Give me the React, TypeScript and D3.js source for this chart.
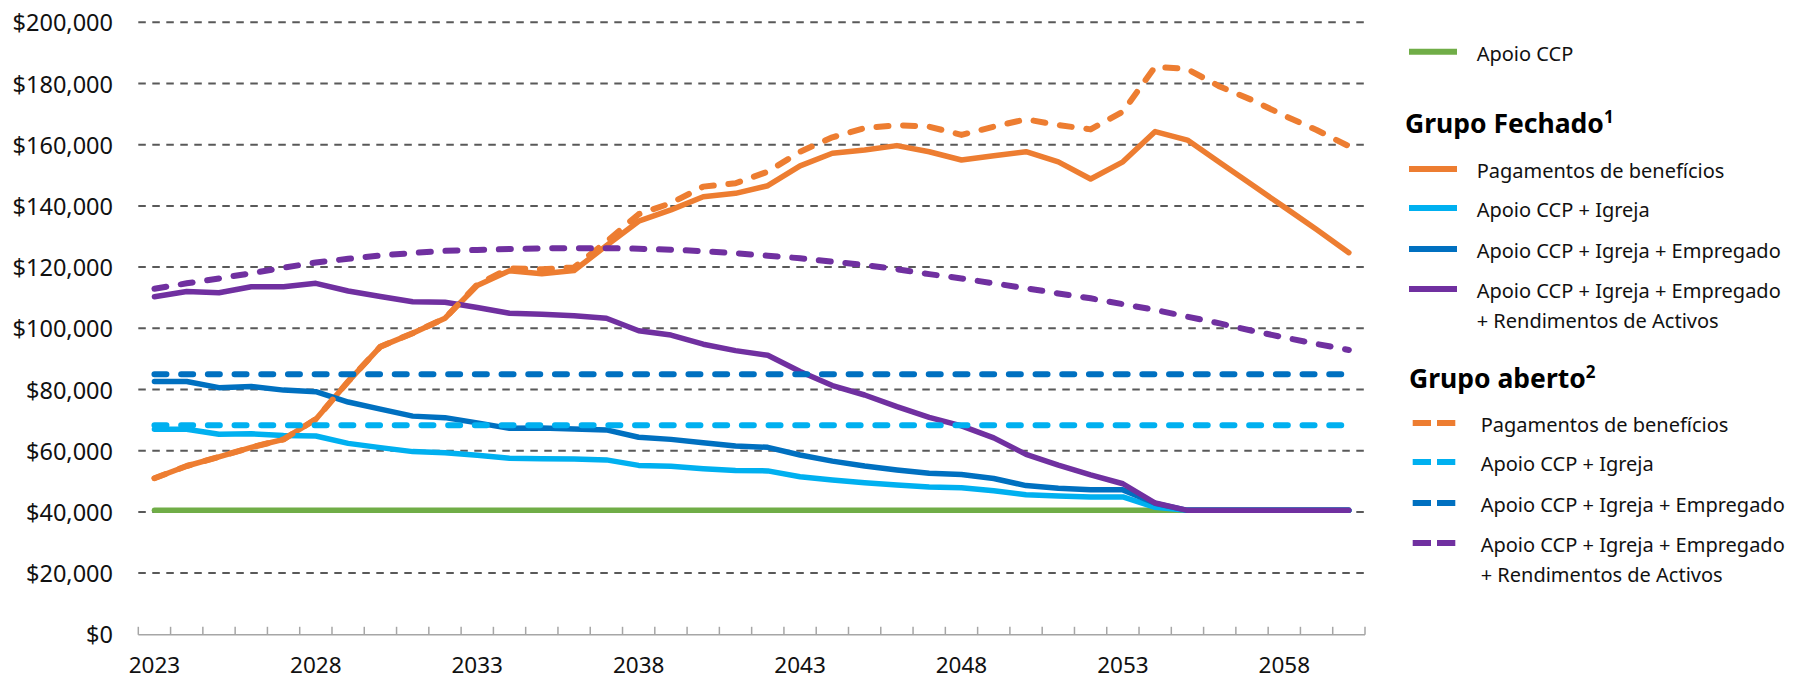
import React from 'react';
import * as d3 from 'd3';

const years = d3.range(2023, 2061);
const labelYears = [2023, 2028, 2033, 2038, 2043, 2048, 2053, 2058];
const yTicks = [0, 20000, 40000, 60000, 80000, 100000, 120000, 140000, 160000, 180000, 200000];

// Apoio CCP
const apoioCCP = [
  40500, 40500, 40500, 40500, 40500, 40500, 40500, 40500, 40500, 40500,
  40500, 40500, 40500, 40500, 40500, 40500, 40500, 40500, 40500, 40500,
  40500, 40500, 40500, 40500, 40500, 40500, 40500, 40500, 40500, 40500,
  40500, 40500, 40500, 40500, 40500, 40500, 40500, 40500,
];

// Grupo Fechado
const fechadoPagamentos = [
  51000, 55000, 58000, 61100, 63700, 70300, 82600, 94000, 98400, 103300,
  114000, 118800, 117800, 118900, 127000, 135000, 138700, 143000, 144100, 146600,
  153100, 157200, 158300, 159700, 157700, 155000, 156400, 157700, 154400, 148800,
  154400, 164300, 161500, 154200, 146900, 139600, 132300, 124700,
];
const fechadoIgreja = [
  67000, 67000, 65400, 65500, 65000, 64800, 62400, 61000, 59700, 59300,
  58500, 57500, 57400, 57300, 57000, 55200, 54900, 54100, 53500, 53400,
  51500, 50400, 49500, 48800, 48100, 47900, 46900, 45600, 45200, 44900,
  44900, 41500, 40500, 40500, 40500, 40500, 40500, 40500,
];
const fechadoEmpregado = [
  82600, 82600, 80600, 81000, 79800, 79300, 75900, 73600, 71300, 70800,
  69100, 67300, 67400, 67100, 66800, 64400, 63700, 62600, 61500, 61100,
  58600, 56600, 55000, 53700, 52600, 52200, 50900, 48600, 47700, 47200,
  47200, 42800, 40500, 40500, 40500, 40500, 40500, 40500,
];
const fechadoRendimentos = [
  110300, 112000, 111600, 113600, 113600, 114700, 112200, 110400, 108700, 108500,
  106800, 104900, 104600, 104100, 103300, 99200, 97800, 94800, 92700, 91200,
  85900, 81300, 78200, 74400, 70900, 68100, 64200, 58800, 55300, 52100,
  49200, 42900, 40500, 40500, 40500, 40500, 40500, 40500,
];

// Grupo aberto
const abertoPagamentos = [
  51000, 55000, 58000, 61100, 63700, 70300, 82600, 94000, 98400, 103300,
  114300, 119600, 119300, 119900, 128300, 137300, 140900, 146300, 147400, 151200,
  157700, 162400, 165400, 166400, 165900, 163200, 165900, 168300, 166400, 165000,
  170800, 185500, 184700, 179000, 174600, 169500, 164800, 159500,
];
const abertoIgreja = [
  68300, 68300, 68300, 68300, 68300, 68300, 68300, 68300, 68300, 68300,
  68300, 68300, 68300, 68300, 68300, 68300, 68300, 68300, 68300, 68300,
  68300, 68300, 68300, 68300, 68300, 68300, 68300, 68300, 68300, 68300,
  68300, 68300, 68300, 68300, 68300, 68300, 68300, 68300,
];
const abertoEmpregado = [
  85000, 85000, 85000, 85000, 85000, 85000, 85000, 85000, 85000, 85000,
  85000, 85000, 85000, 85000, 85000, 85000, 85000, 85000, 85000, 85000,
  85000, 85000, 85000, 85000, 85000, 85000, 85000, 85000, 85000, 85000,
  85000, 85000, 85000, 85000, 85000, 85000, 85000, 85000,
];
const abertoRendimentos = [
  112900, 114700, 116300, 118000, 119800, 121500, 122700, 123800, 124600, 125300,
  125600, 125900, 126100, 126200, 126200, 126000, 125700, 125200, 124500, 123700,
  122900, 121800, 120700, 119300, 117700, 116300, 114700, 113100, 111400, 109800,
  107900, 106000, 103800, 101600, 99200, 97000, 94900, 92900,
];

const GREEN = '#70AD47';
const ORANGE = '#ED7D31';
const LIGHT = '#00B0F0';
const DARK = '#0070C0';
const PURPLE = '#7030A0';

const series = [
  { values: apoioCCP, color: GREEN, dashed: false },
  { values: fechadoPagamentos, color: ORANGE, dashed: false },
  { values: fechadoIgreja, color: LIGHT, dashed: false },
  { values: fechadoEmpregado, color: DARK, dashed: false },
  { values: fechadoRendimentos, color: PURPLE, dashed: false },
  { values: abertoPagamentos, color: ORANGE, dashed: true },
  { values: abertoIgreja, color: LIGHT, dashed: true },
  { values: abertoEmpregado, color: DARK, dashed: true },
  { values: abertoRendimentos, color: PURPLE, dashed: true },
];

const legendFechado = [
  { label: ['Pagamentos de benefícios'], color: ORANGE, y: 169 },
  { label: ['Apoio CCP + Igreja'], color: LIGHT, y: 208 },
  { label: ['Apoio CCP + Igreja + Empregado'], color: DARK, y: 249 },
  { label: ['Apoio CCP + Igreja + Empregado', '+ Rendimentos de Activos'], color: PURPLE, y: 289 },
];
const legendAberto = [
  { label: ['Pagamentos de benefícios'], color: ORANGE, y: 423 },
  { label: ['Apoio CCP + Igreja'], color: LIGHT, y: 462 },
  { label: ['Apoio CCP + Igreja + Empregado'], color: DARK, y: 503 },
  { label: ['Apoio CCP + Igreja + Empregado', '+ Rendimentos de Activos'], color: PURPLE, y: 543 },
];

const FONT = "'Noto Sans', 'Open Sans', sans-serif";

export default function App() {
  const width = 1795;
  const height = 680;
  const left = 138.3;
  const right = 1365;
  const top = 22.3;
  const bottom = 634.3;

  const x = d3.scaleBand<number>().domain(years).range([left, right]);
  const y = d3.scaleLinear().domain([0, 200000]).range([bottom, top]);
  const cx = (yr: number) => (x(yr) ?? 0) + x.bandwidth() / 2;

  const line = d3
    .line<number>()
    .x((_, i) => cx(years[i]))
    .y(d => y(d));

  const fmt = d3.format('$,.0f');
  const boundaries = [...years.map(yr => x(yr) ?? 0), right];

  return (
    <svg
      width={width}
      height={height}
      style={{ position: 'absolute', left: 0, top: 0, background: '#fff' }}
      fontFamily={FONT}
    >
      {/* gridlines */}
      {yTicks.filter(t => t > 0).map(t => (
        <line
          key={t}
          x1={left}
          x2={right}
          y1={y(t)}
          y2={y(t)}
          stroke="#595959"
          strokeWidth={2}
          strokeDasharray="7.5,6.5"
        />
      ))}
      {/* y labels */}
      {yTicks.map(t => (
        <text
          key={'l' + t}
          x={113}
          y={y(t)}
          textAnchor="end"
          dominantBaseline="central"
          fontSize={23.5}
          fill="#111"
        >
          {fmt(t)}
        </text>
      ))}
      {/* x axis */}
      <line x1={left} x2={right} y1={bottom + 0.5} y2={bottom + 0.5} stroke="#a6a6a6" strokeWidth={1.5} />
      {boundaries.map((bx, i) => (
        <line key={'t' + i} x1={bx} x2={bx} y1={bottom - 7.5} y2={bottom + 0.5} stroke="#a6a6a6" strokeWidth={1.5} />
      ))}
      {labelYears.map(yr => (
        <text key={'x' + yr} x={cx(yr)} y={673} textAnchor="middle" fontSize={22.5} fill="#111">
          {yr}
        </text>
      ))}

      {/* series */}
      {series.map((s, i) => (
        <path
          key={'s' + i}
          d={line(s.values) ?? ''}
          fill="none"
          stroke={s.color}
          strokeWidth={s.dashed ? 6 : 5.5}
          strokeLinecap="round"
          strokeLinejoin="round"
          strokeDasharray={s.dashed ? '12,14.7' : undefined}
        />
      ))}

      {/* legend */}
      <line x1={1409} x2={1457} y1={51.7} y2={51.7} stroke={GREEN} strokeWidth={6} />
      <text x={1476.7} y={53} dominantBaseline="central" fontSize={20} fill="#111">Apoio CCP</text>

      <text x={1405} y={133} fontSize={26.5} fontWeight="bold" fill="#000">
        Grupo Fechado<tspan fontSize={17} dy={-10}>1</tspan>
      </text>
      {legendFechado.map((it, i) => (
        <g key={'lf' + i}>
          <line x1={1409} x2={1457} y1={it.y} y2={it.y} stroke={it.color} strokeWidth={6} />
          {it.label.map((t, j) => (
            <text key={j} x={1476.7} y={it.y + 1.5 + j * 30} dominantBaseline="central" fontSize={20} fill="#111">
              {t}
            </text>
          ))}
        </g>
      ))}

      <text x={1409} y={388} fontSize={26.5} fontWeight="bold" fill="#000">
        Grupo aberto<tspan fontSize={17} dy={-10}>2</tspan>
      </text>
      {legendAberto.map((it, i) => (
        <g key={'la' + i}>
          <line
            x1={1412.7}
            x2={1455.3}
            y1={it.y}
            y2={it.y}
            stroke={it.color}
            strokeWidth={6}
            strokeDasharray="18.3,6"
          />
          {it.label.map((t, j) => (
            <text key={j} x={1480.7} y={it.y + 1.5 + j * 30} dominantBaseline="central" fontSize={20} fill="#111">
              {t}
            </text>
          ))}
        </g>
      ))}
    </svg>
  );
}
